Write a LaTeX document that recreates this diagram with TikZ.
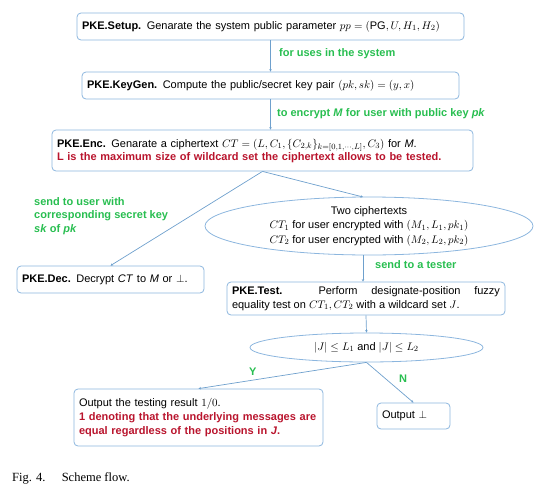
\documentclass[tikz,border=0pt]{standalone}
\usepackage{fontspec}
\setmainfont{Liberation Sans}
\newfontfamily\capfont{Liberation Serif}
\usetikzlibrary{arrows.meta,shapes.geometric}
\definecolor{lineblue}{RGB}{110,160,205}
\definecolor{boxblue}{RGB}{140,182,222}
\definecolor{lblgreen}{RGB}{40,190,80}
\definecolor{txtred}{RGB}{185,20,45}
\begin{document}
\begin{tikzpicture}[x=1pt,y=-1pt,
  box/.style={draw=boxblue, rounded corners=4pt, line width=0.8pt, inner xsep=5pt, inner ysep=0pt, align=left, font=\fontsize{11}{14}\selectfont},
  ell/.style={draw=boxblue, ellipse, line width=0.8pt, inner sep=0pt, align=center, font=\fontsize{11}{14.5}\selectfont},
  conn/.style={draw=lineblue, line width=0.7pt, -{Stealth[length=2.5pt,width=2.5pt]}},
  lbl/.style={text=lblgreen, font=\bfseries\fontsize{11}{13.5}\selectfont, anchor=west, align=left, inner sep=0pt}]
\useasboundingbox (0,0) rectangle (539,501);

\node[box, text width=377pt, minimum height=27pt] (setup) at (270.5,26.5)
  {\textbf{PKE.Setup.} Genarate the system public parameter $pp=(\mathrm{PG},U,H_1,H_2)$};
\node[box, text width=367pt, minimum height=27pt] (keygen) at (270.5,85.5)
  {\textbf{PKE.KeyGen.} Compute the public/secret key pair $(pk,sk)=(y,x)$};
\node[box, text width=411pt, minimum height=41pt] (enc) at (262.5,150.5)
  {\textbf{PKE.Enc.} Genarate a ciphertext $CT=\bigl(L,C_1,\{C_{2,k}\}_{k=[0,1,\cdots,L]},C_3\bigr)$ for \textit{M}.\\[-1pt]
   \textcolor{txtred}{\textbf{L is the maximum size of wildcard set the ciphertext allows to be tested.}}};
\node[box, text width=177pt, minimum height=27pt] (dec) at (110.5,279.5)
  {\textbf{PKE.Dec.} Decrypt \textit{CT} to \textit{M} or $\perp$.};
\node[ell, minimum width=328pt, minimum height=58pt] (two) at (369,226)
  {Two ciphertexts\\ $CT_1$ for user encrypted with $(M_1,L_1,pk_1)$\\ $CT_2$ for user encrypted with $(M_2,L_2,pk_2)$};
\node[box, text width=268pt, minimum height=33pt, align=justify] (test) at (366,298.5)
  {\textbf{PKE.Test.} Perform designate-position fuzzy\linebreak equality test on $CT_1,CT_2$ with a wildcard set $J$.};
\node[ell, minimum width=233pt, minimum height=29pt] (cond) at (366.5,347.5)
  {$|J|\leq L_1$ and $|J|\leq L_2$};
\node[box, text width=239pt, minimum height=57pt] (outy) at (198.5,417.5)
  {Output the testing result $1/0$.\\
   \textcolor{txtred}{\textbf{1 denoting that the underlying messages are equal regardless of the positions in \textit{J}.}}};
\node[box, text width=63pt, minimum height=26pt] (outn) at (413.5,416)
  {Output $\perp$};

\draw[conn] (setup.south) -- (setup.south |- keygen.north);
\draw[conn] (keygen.south) -- (keygen.south |- enc.north);
\draw[conn] (enc.south) -- (dec.north);
\draw[conn] (enc.south) -- (363,197) coordinate (twotop);
\draw[conn] (363,255) coordinate (twobot) -- (twobot |- test.north);
\draw[conn] (test.south) -- (cond.north);
\draw[conn] (cond.south) -- (outy.north);
\draw[conn] (cond.south) -- (outn.north);

\node[lbl] (l1) at (279,54) {for uses in the system};
\node[lbl] (l2) at (277,114) {to encrypt \textit{M} for user with public key \textit{pk}};
\node[lbl] (l3) at (34,216) {send to user with\\ corresponding secret key\\ \textit{sk} of \textit{pk}};
\node[lbl] (l4) at (375,265) {send to a tester};
\node[lbl] (ly) at (249,372) {Y};
\node[lbl] (ln) at (399,379) {N};

\node[anchor=west, inner sep=0pt, font=\capfont\fontsize{12.5}{14}\selectfont] (cap) at (12,478) {Fig. 4.\hspace{1.3em}Scheme flow.};
\end{tikzpicture}
\end{document}
